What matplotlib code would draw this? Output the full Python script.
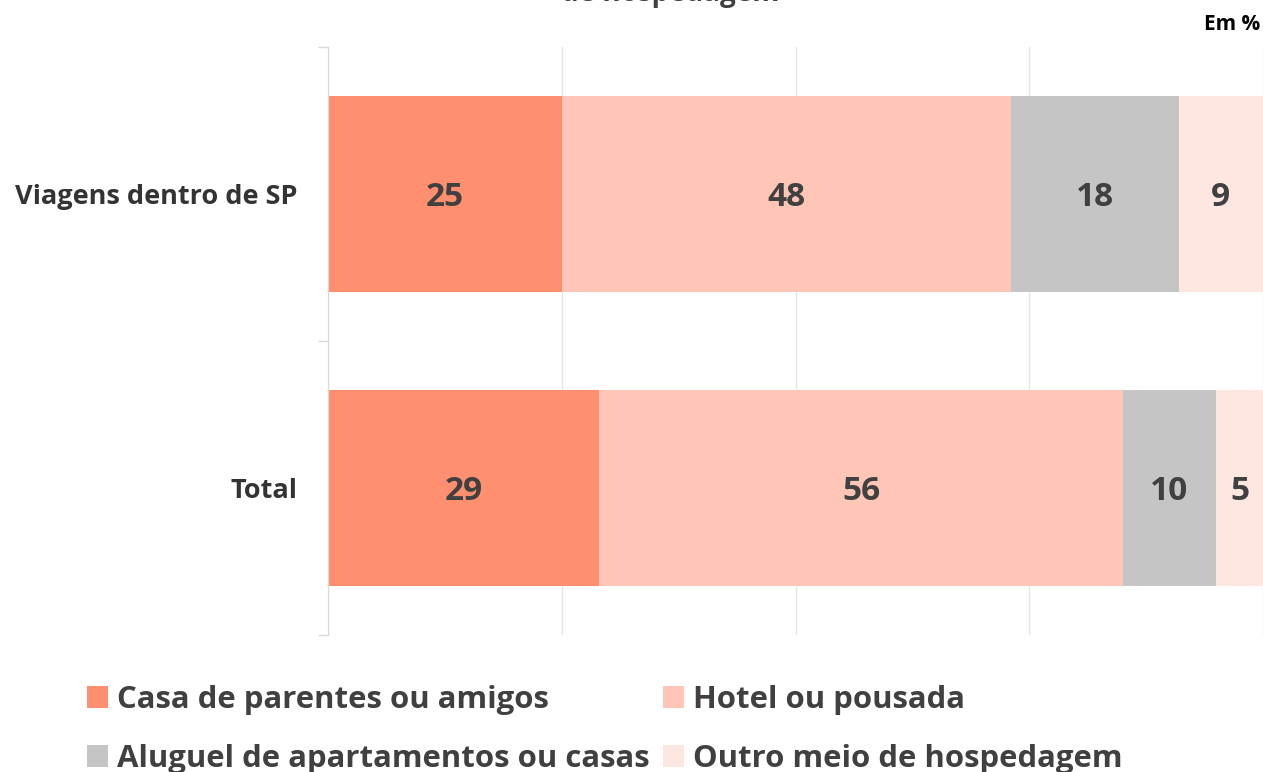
import matplotlib
matplotlib.use("Agg")
import matplotlib.pyplot as plt
from matplotlib.patches import Patch

categories = ["Total", "Viagens dentro de SP"]
series_names = ["Casa de parentes ou amigos", "Hotel ou pousada",
                "Aluguel de apartamentos ou casas", "Outro meio de hospedagem"]
values = {
    "Casa de parentes ou amigos": [29, 25],
    "Hotel ou pousada": [56, 48],
    "Aluguel de apartamentos ou casas": [10, 18],
    "Outro meio de hospedagem": [5, 9],
}
colors = ["#FF8F6E", "#FFC5B6", "#C5C5C5", "#FFE7E1"]
title = "de hospedagem"
unit_label = "Em %"

plt.rcParams['font.family'] = ['Open Sans', 'DejaVu Sans']

fig = plt.figure(figsize=(12.63, 7.72), dpi=100)
ax = fig.add_axes([328/1263, 1-635/772, 1-328/1263, (635-47)/772])

ypos = list(range(len(categories)))
left = [0]*len(categories)
for name, col in zip(series_names, colors):
    vals = values[name]
    ax.barh(ypos, vals, left=left, color=col, height=0.667, zorder=2)
    for y, v, l in zip(ypos, vals, left):
        ax.text(l + v/2, y, str(v), ha='center', va='center_baseline', fontsize=24,
                fontweight='bold', color='#404040', zorder=3)
    left = [a+b for a, b in zip(left, vals)]

ax.set_xlim(0, 100)
ax.set_ylim(-0.5, 1.5)
ax.set_xticks([0, 25, 50, 75, 100])
ax.set_xticklabels([])
ax.tick_params(axis='x', length=0)
ax.grid(axis='x', color='#E6E6E6', linewidth=1, zorder=0)
ax.set_yticks(ypos)
ax.set_yticklabels(categories, fontsize=19.5, fontweight='bold', color='#333333')
ax.tick_params(axis='y', which='major', length=0, pad=22)
ax.set_yticks([-0.5, 0.5, 1.5], minor=True)
ax.tick_params(axis='y', which='minor', length=7, color='#D9D9D9', width=1)
for s in ['top', 'right', 'bottom']:
    ax.spines[s].set_visible(False)
ax.spines['left'].set_color('#D9D9D9')

fig.text(670/1263, 1+7/772, title, ha='center', va='center', fontsize=20,
         fontweight='bold', color='#404040')
fig.text(1260/1263, 1-24/772, unit_label, ha='right', va='center', fontsize=15,
         fontweight='bold', color='black')

order = [0, 2, 1, 3]
handles = [Patch(facecolor=colors[i], edgecolor='none') for i in order]
labels = [series_names[i] for i in order]
fig.legend(handles, labels, ncol=2, frameon=False, loc='upper left',
           bbox_to_anchor=(87/1263, 1-685/772), borderpad=0, borderaxespad=0,
           prop={'weight': 'bold', 'size': 22.4},
           handlelength=0.68, handleheight=0.68, handletextpad=0.3,
           columnspacing=0.4, labelspacing=0.93, labelcolor='#404040')

fig.savefig("out.png", dpi=100)
